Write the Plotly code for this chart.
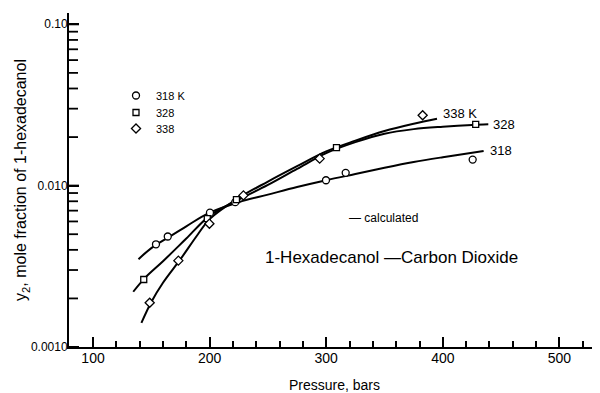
import math
import plotly.graph_objects as go

# ---------------- data ----------------
# measured points
p318 = [154.0, 164.1, 200.3, 222.0, 299.8, 316.7, 425.6]
y318 = [0.00433, 0.00484, 0.0068, 0.0079, 0.0108, 0.0120, 0.0145]

p328 = [143.5, 198.0, 223.0, 308.8, 428.2]
y328 = [0.00262, 0.00624, 0.0082, 0.0172, 0.0240]

p338 = [148.6, 173.2, 199.8, 229.0, 294.4, 382.7]
y338 = [0.00188, 0.00343, 0.00581, 0.0087, 0.0147, 0.0273]

# calculated curves
c318_p = [139, 150, 165, 180, 200, 225, 250, 275, 300, 325, 350, 375, 400, 435]
c318_y = [0.0035, 0.0041, 0.0048, 0.0056, 0.0068, 0.0079, 0.0088, 0.0098, 0.0108,
          0.0118, 0.0129, 0.0140, 0.0150, 0.0164]

c328_p = [134.5, 145, 160, 180, 200, 225, 250, 275, 300, 325, 350, 375, 400, 425, 439]
c328_y = [0.0022, 0.0027, 0.0034, 0.0047, 0.0065, 0.0082, 0.0101, 0.0127, 0.0159,
          0.0186, 0.0210, 0.0224, 0.0232, 0.0238, 0.0240]

c338_p = [141.5, 150, 160, 175, 190, 200, 225, 250, 275, 300, 325, 350, 375, 395]
c338_y = [0.00141, 0.0019, 0.0025, 0.0035, 0.0050, 0.0062, 0.0084, 0.0106, 0.0132,
          0.0163, 0.0190, 0.0218, 0.0242, 0.0260]

y_major = [0.001, 0.01, 0.1]
y_major_labels = {"0.001": "0.0010", "0.01": "0.010", "0.1": "0.10"}

series_names = ["318 K", "328", "338"]
curve_labels = ["318", "328", "338 K"]

FONT = "Liberation Sans"
fig = go.Figure()

curves = [(c318_p, c318_y), (c328_p, c328_y), (c338_p, c338_y)]
label_shift = [(4, 0), (3, 0), (4, 5)]
for (cp, cy), lab, (dx, dy) in zip(curves, curve_labels, label_shift):
    fig.add_trace(go.Scatter(x=cp, y=cy, mode="lines", line=dict(color="black", width=2, shape="spline"),
                             showlegend=False, hoverinfo="skip"))
    fig.add_annotation(x=cp[-1], y=math.log10(cy[-1]), text=lab, showarrow=False, xanchor="left",
                       xshift=dx, yshift=dy, font=dict(family=FONT, size=13, color="black"))

symbols = ["circle", "square", "diamond"]
sizes = [7, 6, 7]
legend_ids = ["legend", "legend2", "legend3"]
for (pp, yy), name, sym, sz, lg in zip([(p318, y318), (p328, y328), (p338, y338)],
                                       series_names, symbols, sizes, legend_ids):
    fig.add_trace(go.Scatter(x=pp, y=yy, mode="markers", name=name, legend=lg,
                             marker=dict(symbol=sym, size=sz, color="white",
                                         line=dict(color="black", width=1.3))))

fig.add_annotation(xref="paper", yref="paper", x=(347 - 69) / 531, y=(347 - 218) / 334,
                   text="— calculated", showarrow=False, xanchor="left",
                   font=dict(family=FONT, size=12, color="black"))
fig.add_annotation(xref="paper", yref="paper", x=(391 - 69) / 531, y=(347 - 269) / 334,
                   text="1-Hexadecanol —Carbon Dioxide", showarrow=False, xanchor="center",
                   font=dict(family=FONT, size=17, color="black"))

# inward tick marks on the log axis (1..9 x each decade), anchored to the y scale
for d in y_major:
    for m in range(1, 10):
        v = d * m
        if v > 0.117:
            break
        fig.add_shape(type="line", xref="x domain", yref="y", x0=0, x1=(10 if m == 1 else 9) / 531,
                      y0=v, y1=v, line=dict(color="black", width=2 if m == 1 else 1.8), layer="above")

# the page adds an 8 px body margin: figure is drawn 8 px in from the corner
leg_common = dict(xanchor="left", yanchor="top", bgcolor="rgba(0,0,0,0)", itemwidth=30,
                  font=dict(family=FONT, size=11, color="black"))
leg_x = (116 - 69) / 531
fig.update_layout(
    template="none",
    width=592, height=385,
    margin=dict(l=61, r=0, t=5, b=46),
    paper_bgcolor="white", plot_bgcolor="white",
    font=dict(family=FONT, color="black"),
    showlegend=True,
    legend=dict(x=leg_x, y=(347 - 81) / 334, **leg_common),
    legend2=dict(x=leg_x, y=(347 - 98) / 334, **leg_common),
    legend3=dict(x=leg_x, y=(347 - 114) / 334, **leg_common),
)

fig.update_xaxes(
    range=[79.4, 534.8], showgrid=False, zeroline=False, automargin=False,
    showline=True, linecolor="black", linewidth=2,
    tickmode="linear", tick0=0, dtick=100,
    ticks="inside", ticklen=10, tickwidth=2, tickcolor="black",
    tickfont=dict(family=FONT, size=14), ticklabelstandoff=-3,
    minor=dict(ticks="inside", ticklen=6, dtick=20, tick0=0, tickwidth=1.6, tickcolor="black", showgrid=False),
    title=dict(text="Pressure, bars", font=dict(family=FONT, size=14), standoff=17),
)
fig.update_yaxes(
    type="log", range=[-3, -0.93], showgrid=False, zeroline=False, automargin=False,
    showline=True, linecolor="black", linewidth=2,
    tickmode="linear", tick0=0, dtick=1, labelalias=y_major_labels,
    ticks="inside", ticklen=10, tickwidth=2, tickcolor="black",
    tickfont=dict(family=FONT, size=12), ticklabelstandoff=-3,
    title=dict(text="y<sub>2</sub>, mole fraction of 1-hexadecanol", font=dict(family=FONT, size=16), standoff=0),
)

fig.write_html("out.html")
